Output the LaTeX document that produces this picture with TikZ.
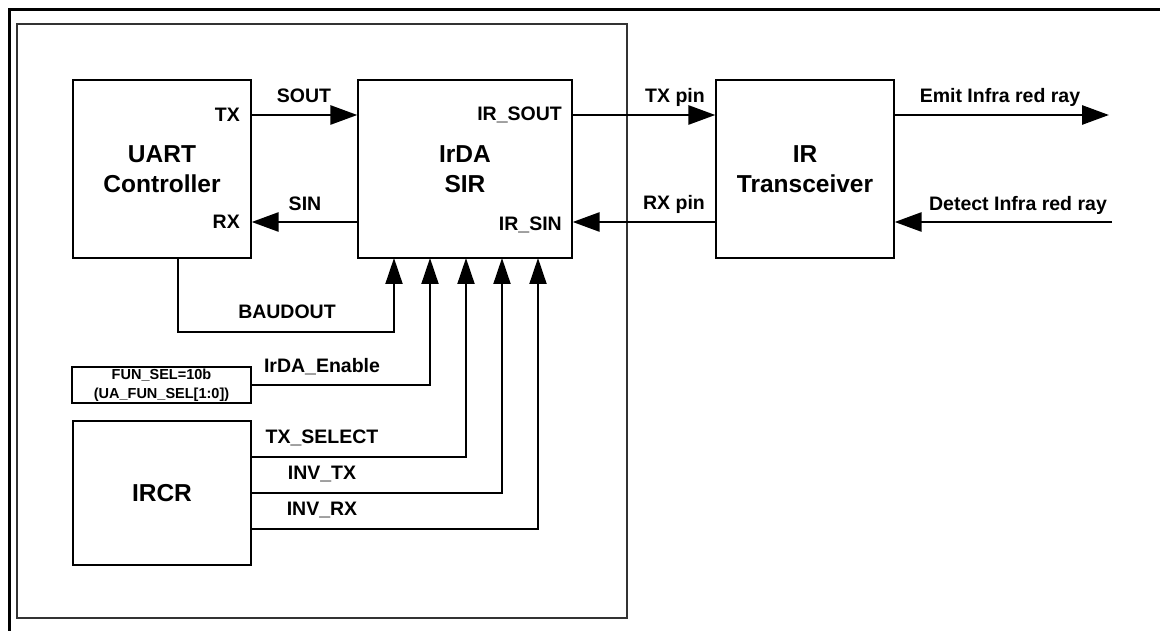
\documentclass[tikz,border=0pt]{standalone}
\usepackage{fontspec}
\setmainfont{Liberation Sans}
\usetikzlibrary{arrows.meta}

\begin{document}
\begin{tikzpicture}[x=1pt, y=-1pt,
    box/.style={draw, line width=1.3pt, inner sep=0pt, align=center,
        font=\fontsize{24.5}{29.5}\selectfont\bfseries},
    port/.style={font=\fontsize{19.5}{22}\selectfont\bfseries, inner sep=0pt},
    small/.style={font=\fontsize{14.5}{19}\selectfont\bfseries, inner sep=0pt, align=center},
    sig/.style={line width=2.8pt, -{Triangle[length=27pt, width=19pt]}},
    bus/.style={line width=2pt, -{Triangle[length=26pt, width=17pt]}}]
    \useasboundingbox (0,0) rectangle (1160,631);

    % Frames
    \draw[line width=3pt] (9.5,631) -- (9.5,9.5) -- (1160,9.5);
    \draw[line width=1.8pt, black!80] (17,24) rectangle (627,618);

    % Nodes
    \node[box, minimum width=178pt, minimum height=178pt] (uart) at (162,169) {UART\\Controller};
    \node[box, minimum width=214pt, minimum height=178pt] (sir) at (465,169) {IrDA\\SIR};
    \node[box, minimum width=178pt, minimum height=178pt] (trx) at (805,169) {IR\\Transceiver};
    \node[box, small, minimum width=179pt, minimum height=36pt] (funsel) at (161.5,385) {FUN\_SEL=10b\\(UA\_FUN\_SEL[1:0])};
    \node[box, minimum width=178pt, minimum height=144pt] (ircr) at (162,493) {IRCR};

    % Ports
    \node[port, anchor=east] (txport) at (240,115) {TX};
    \node[port, anchor=east] (rxport) at (240,222) {RX};
    \node[port, anchor=east] (irsout) at (562,115) {IR\_SOUT};
    \node[port, anchor=east] (irsin) at (562,225) {IR\_SIN};

    % Free ends
    \coordinate (emit) at (1109,115);
    \coordinate (detect) at (1112,222);
    \foreach \i in {1,...,5}
        \coordinate (in\i) at (358+36*\i,258);

    % Edges
    \draw[sig] (uart.east |- txport) -- (sir.west |- txport);
    \draw[sig] (sir.west |- rxport) -- (uart.east |- rxport);
    \draw[sig] (sir.east |- txport) -- (trx.west |- txport);
    \draw[sig] (trx.west |- rxport) -- (sir.east |- rxport);
    \draw[sig] (trx.east |- txport) -- (emit);
    \draw[sig] (detect) -- (trx.east |- rxport);
    \draw[bus] ([xshift=16pt]uart.south) -- ++(0,73) -| (in1);
    \draw[bus] (funsel.east) -| (in2);
    \draw[bus] ([yshift=36pt]ircr.east) -| (in3);
    \draw[bus] (ircr.east) -| (in4);
    \draw[bus] ([yshift=-36pt]ircr.east) -| (in5);

    % Labels
    \node[port] (sout) at (304,96) {SOUT};
    \node[port] (sin) at (305,204) {SIN};
    \node[port] (txpin) at (675,97) {TX pin};
    \node[port] (rxpin) at (674,204) {RX pin};
    \node[port] (emitlbl) at (1000,97) {Emit Infra red ray};
    \node[port] (detectlbl) at (1018,205) {Detect Infra red ray};
    \node[port] (baud) at (287,312) {BAUDOUT};
    \node[port] (irdaen) at (322,367) {IrDA\_Enable};
    \node[port] (txsel) at (322,438) {TX\_SELECT};
    \node[port] (invtx) at (322,474) {INV\_TX};
    \node[port] (invrx) at (322,510) {INV\_RX};
\end{tikzpicture}
\end{document}
